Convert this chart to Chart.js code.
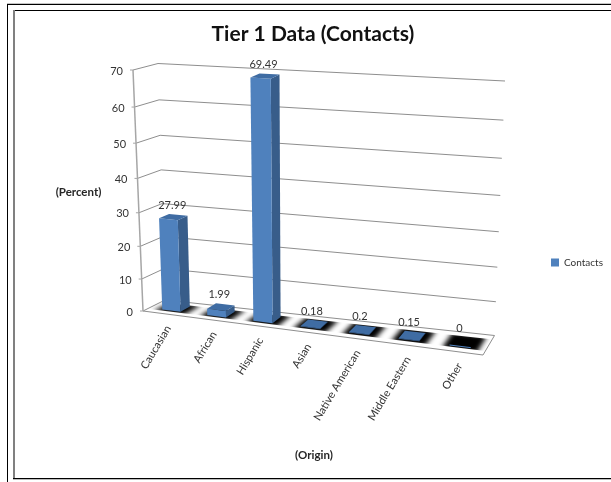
<!DOCTYPE html>
<html>
<head>
<meta charset="utf-8">
<style>html,body{margin:0;padding:0;background:#fff}canvas{display:block}</style>
<script src="https://cdn.jsdelivr.net/npm/chart.js@4"></script>
</head>
<body>
<canvas id="c" width="611" height="482"></canvas>
<script>
const categories = ["Caucasian","African","Hispanic","Asian","Native American","Middle Eastern","Other"];
const seriesName = "Contacts";
const contacts = [27.99,1.99,69.49,0.18,0.2,0.15,0];
const yMax = 70, yStep = 10;
const chartTitle = "Tier 1 Data (Contacts)";
const xTitle = "(Origin)";
const yTitle = "(Percent)";

const FONT = "Lato, 'Open Sans', sans-serif";
const TXT = "#333";
const GRID = "#8e8e8e";
const FRONT = "#4f81bd", SIDE = "#385d8a", TOP = "#3f6ca3";

// screen corners of the 3-D box: [u][v][w]
const C = {
  '000':[143,311],'100':[483,355],'010':[133,70],'110':[494,96],
  '001':[165,300],'101':[494.5,335.5],'011':[158,63.5],'111':[505,81]
};
function P(u,v,w){
  const a=u/(1+0.09*(1-u)), b=v/(1+0.09*(1-v));
  let x=0,y=0;
  for(const i of [0,1])for(const j of [0,1])for(const k of [0,1]){
    const f=(i?a:1-a)*(j?b:1-b)*(k?w:1-w), p=C[''+i+j+k];
    x+=f*p[0]; y+=f*p[1];
  }
  return [x,y];
}
function poly(ctx,pts,fill,stroke){
  ctx.beginPath();
  pts.forEach((p,i)=>i?ctx.lineTo(p[0],p[1]):ctx.moveTo(p[0],p[1]));
  ctx.closePath();
  if(fill){ctx.fillStyle=fill;ctx.fill();}
  if(stroke){ctx.strokeStyle=stroke;ctx.lineWidth=1;ctx.stroke();}
}
function line(ctx,a,b,col,lw){
  ctx.beginPath();ctx.moveTo(a[0],a[1]);ctx.lineTo(b[0],b[1]);
  ctx.strokeStyle=col;ctx.lineWidth=lw||1;ctx.stroke();
}
const W0=0.28, W1=0.72;
let activeChart=null;

function barGeom(el,chart){
  const a=chart.chartArea, p=el.getProps(['x','y','base','width'],true);
  const u0=(p.x-p.width/2-a.left)/(a.right-a.left), u1=(p.x+p.width/2-a.left)/(a.right-a.left);
  const v=(p.base-p.y)/(p.base-a.top);
  return {u0,u1,v};
}

// every bar element keeps its scale-derived geometry and draws itself as a prism
Chart.BarElement.prototype.draw=function(ctx){
  const {u0,u1,v}=barGeom(this,activeChart);
  ctx.save();
  if(v>0){
    poly(ctx,[P(u1,0,W0),P(u1,0,W1),P(u1,v,W1),P(u1,v,W0)],SIDE);
    poly(ctx,[P(u0,0,W0),P(u1,0,W0),P(u1,v,W0),P(u0,v,W0)],FRONT);
    poly(ctx,[P(u0,v,W0),P(u1,v,W0),P(u1,v,W1),P(u0,v,W1)],TOP);
  }else{
    line(ctx,P(u0,0,W0),P(u1,0,W0),FRONT,1);
  }
  ctx.restore();
};

const box3D={
  id:'box3D',
  beforeDraw(chart){
    activeChart=chart;
    const ctx=chart.ctx;
    ctx.save();
    ctx.fillStyle='#fff';ctx.fillRect(0,0,chart.width,chart.height);
    // frames
    ctx.fillStyle='#c4c4c4';ctx.fillRect(7,3,604,1);
    ctx.fillStyle='#000';ctx.fillRect(7,4,604,1);ctx.fillRect(7,4,1,478);
    ctx.fillRect(13,10,598,1);ctx.fillRect(13,478,598,1);
    ctx.fillStyle='#808080';ctx.fillRect(13,10,2,468);
    ctx.fillStyle='#bbb';ctx.fillRect(13,479,598,1);
    ctx.restore();
  },
  beforeDatasetsDraw(chart){
    const ctx=chart.ctx, y=chart.scales.y;
    ctx.save();
    // walls: gridlines
    y.ticks.forEach(t=>{
      const v=(y.bottom-y.getPixelForValue(t.value))/(y.bottom-y.top);
      if(v>0){
        line(ctx,P(0,v,0),P(0,v,1),GRID);
        line(ctx,P(0,v,1),P(1,v,1),GRID);
      }
    });
    // floor outline
    line(ctx,P(0,0,0),P(1,0,0),GRID);
    line(ctx,P(1,0,0),P(1,0,1),GRID);
    line(ctx,P(1,0,1),P(0,0,1),GRID);
    line(ctx,P(0,0,1),P(0,0,0),GRID);
    // value axis
    line(ctx,P(0,0,0),P(0,1,0),'#a6a6a6',1.5);
    // floor shadows: sharp along the depth, soft at both ends
    const meta=chart.getDatasetMeta(0);
    meta.data.forEach(el=>{
      const {u0,u1}=barGeom(el,chart), d=u1-u0;
      const a=u0-d*0.25, b=u1+d*0.4, e=d*0.6;
      ctx.save();
      ctx.beginPath();
      [P(a-e,0,0.2),P(b+e,0,0.2),P(b+e,0,0.8),P(a-e,0,0.8)].forEach((p,i)=>i?ctx.lineTo(p[0],p[1]):ctx.moveTo(p[0],p[1]));
      ctx.closePath();ctx.clip();
      ctx.filter='blur(2.6px)';
      poly(ctx,[P(a,0,0.05),P(b,0,0.05),P(b,0,0.95),P(a,0,0.95)],'#000');
      ctx.restore();
    });
    ctx.restore();
  },
  afterDatasetsDraw(chart){
    const ctx=chart.ctx, y=chart.scales.y, x=chart.scales.x;
    ctx.save();
    ctx.fillStyle=TXT;
    // value labels on the bars
    ctx.font="11px "+FONT;ctx.textAlign='center';ctx.textBaseline='middle';
    const meta=chart.getDatasetMeta(0), vals=chart.data.datasets[0].data;
    meta.data.forEach((el,i)=>{
      const {u0,u1,v}=barGeom(el,chart), p=P((u0+u1)/2,v,W1);
      ctx.fillStyle=TXT;
      ctx.fillText(String(vals[i]),p[0]-6,p[1]-9.5);
    });
    // y ticks
    y.ticks.forEach(t=>{
      const v=(y.bottom-y.getPixelForValue(t.value))/(y.bottom-y.top), p=P(0,v,0);
      line(ctx,[p[0]-3,p[1]],p,'#a6a6a6',1);
      ctx.fillStyle=TXT;ctx.font="11px "+FONT;ctx.textAlign='right';ctx.textBaseline='middle';
      ctx.fillText(String(t.value),p[0]-10,p[1]+1);
    });
    // x ticks
    ctx.font="11px "+FONT;ctx.textAlign='right';ctx.textBaseline='middle';
    x.ticks.forEach(t=>{
      const u=(x.getPixelForValue(t.value)-chart.chartArea.left)/(chart.chartArea.right-chart.chartArea.left);
      const p=P(u,0,0);
      ctx.save();ctx.translate(p[0]+3,p[1]+12.5);ctx.rotate(-59*Math.PI/180);
      ctx.fillStyle=TXT;ctx.fillText(categories[t.value],0,0);ctx.restore();
    });
    // axis titles
    ctx.font="bold 11.5px "+FONT;ctx.textAlign='center';ctx.fillStyle='#262626';
    ctx.fillText(yTitle,78.5,192);
    ctx.fillText(xTitle,314,455);
    ctx.restore();
  },
  afterLayout(chart){
    const l=chart.legend;
    if(l){const h=l.bottom-l.top;l.left=545;l.right=611;l.top=262.5-h/2;l.bottom=262.5+h/2;}
  }
};

new Chart(document.getElementById('c'),{
  type:'bar',
  data:{labels:categories,datasets:[{label:seriesName,data:contacts,backgroundColor:FRONT,
    categoryPercentage:0.41,barPercentage:1,clip:false}]},
  plugins:[box3D],
  options:{
    responsive:false,animation:false,
    layout:{padding:{left:15,top:14}},
    scales:{
      x:{display:false,ticks:{autoSkip:false}},
      y:{display:false,min:0,max:yMax,ticks:{stepSize:yStep}}
    },
    plugins:{
      tooltip:{enabled:false},
      title:{display:true,text:chartTitle,color:'#111',font:{family:FONT,size:21,weight:'bold'},padding:{top:8,bottom:8}},
      legend:{position:'right',labels:{boxWidth:8,boxHeight:8,color:TXT,font:{family:FONT,size:10},padding:6}}
    }
  }
});
</script>
</body>
</html>
